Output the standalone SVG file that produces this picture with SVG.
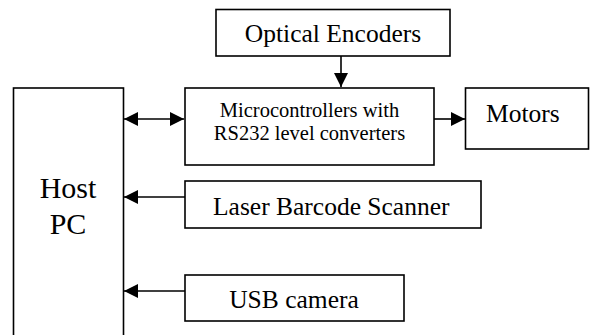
<svg xmlns="http://www.w3.org/2000/svg" width="590" height="335" viewBox="0 0 590 335">
<style>
.box{fill:#fff;stroke:#000;stroke-width:1.6}
.t{font-family:"Liberation Serif","Times New Roman",serif;fill:#000}
.c{stroke:#000;stroke-width:1.6;fill:none}
</style>
<defs>
<marker id="ah" markerUnits="userSpaceOnUse" markerWidth="14" markerHeight="14" refX="14" refY="7" orient="auto-start-reverse">
<path d="M0,0 L14,7 L0,14 z" fill="#000"/>
</marker>
</defs>
<rect width="590" height="335" fill="#fff"/>
<g id="host-pc">
<rect class="box" x="13.5" y="88" width="110" height="260"/>
<text class="t" x="68" y="198" font-size="30" text-anchor="middle">Host</text>
<text class="t" x="68" y="234" font-size="30" text-anchor="middle">PC</text>
</g>
<g id="optical-encoders">
<rect class="box" x="216" y="9.5" width="234" height="46.5"/>
<text class="t" x="333" y="42" font-size="25.5" text-anchor="middle">Optical Encoders</text>
</g>
<g id="microcontrollers">
<rect class="box" x="185" y="88" width="249" height="77"/>
<text class="t" x="309.5" y="117" font-size="20.5" text-anchor="middle">Microcontrollers with</text>
<text class="t" x="309.5" y="140" font-size="20.5" text-anchor="middle">RS232 level converters</text>
</g>
<g id="motors">
<rect class="box" x="465.5" y="88" width="123" height="61"/>
<text class="t" x="486" y="122" font-size="25.5">Motors</text>
</g>
<g id="laser-barcode-scanner">
<rect class="box" x="185" y="181" width="296" height="47"/>
<text class="t" x="213" y="215" font-size="25.5">Laser Barcode Scanner</text>
</g>
<g id="usb-camera">
<rect class="box" x="185" y="275" width="219" height="46"/>
<text class="t" x="294" y="308" font-size="25.5" text-anchor="middle">USB camera</text>
</g>
<g id="connectors">
<line class="c" x1="341" y1="56" x2="341" y2="87" marker-end="url(#ah)"/>
<line class="c" x1="124" y1="119" x2="184" y2="119" marker-start="url(#ah)" marker-end="url(#ah)"/>
<line class="c" x1="434" y1="119" x2="465" y2="119" marker-end="url(#ah)"/>
<line class="c" x1="185" y1="197" x2="124" y2="197" marker-end="url(#ah)"/>
<line class="c" x1="185" y1="291" x2="124" y2="291" marker-end="url(#ah)"/>
</g>
</svg>
